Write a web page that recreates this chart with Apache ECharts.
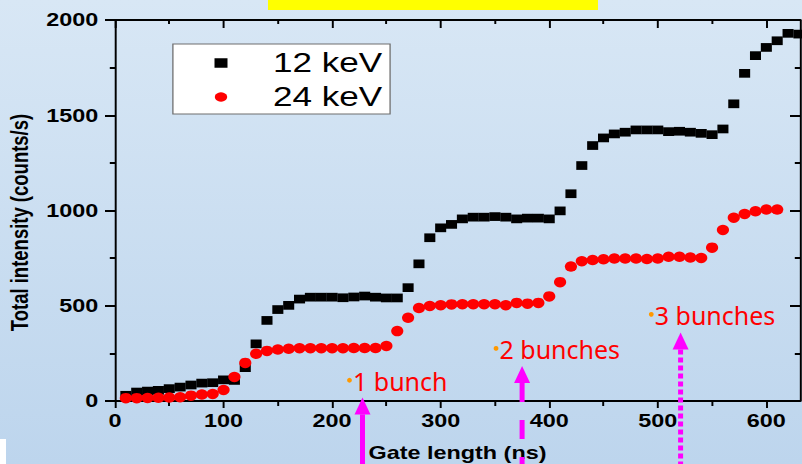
<!DOCTYPE html>
<html>
<head>
<meta charset="utf-8">
<script src="https://cdn.jsdelivr.net/npm/echarts@6/dist/echarts.min.js"></script>
<style>
  html, body { margin: 0; padding: 0; overflow: hidden; background: #fff; }
  #frame { position: relative; width: 802px; height: 464px; overflow: hidden; }
  #chart { position: absolute; left: 0; top: 0; height: 464px; transform-origin: 0 0; }
</style>
</head>
<body>
<div id="frame"><div id="chart"></div></div>
<script>
// Gate length (ns) of each measurement
const gateLength = [10, 20, 30, 40, 50, 60, 70, 80, 90, 100,
  110, 120, 130, 140, 150, 160, 170, 180, 190, 200,
  210, 220, 230, 240, 250, 260, 270, 280, 290, 300,
  310, 320, 330, 340, 350, 360, 370, 380, 390, 400,
  410, 420, 430, 440, 450, 460, 470, 480, 490, 500,
  510, 520, 530, 540, 550, 560, 570, 580, 590, 600,
  610, 620, 630];

// Total intensity (counts/s), 12 keV beam
const intensity12keV = [30, 47, 52, 56, 65, 73, 84, 94, 96, 111,
  108, 175, 300, 423, 480, 502, 535, 545, 545, 545,
  542, 546, 551, 545, 541, 541, 595, 720, 857, 909,
  927, 956, 965, 965, 968, 965, 956, 960, 960, 956,
  998, 1088, 1236, 1341, 1381, 1402, 1411, 1423, 1423, 1423,
  1414, 1416, 1411, 1405, 1398, 1428, 1560, 1720, 1813, 1856,
  1891, 1930, 1926];

// Total intensity (counts/s), 24 keV beam
const intensity24keV = [15, 15, 16, 17, 18, 20, 28, 34, 37, 58,
  126, 200, 248, 263, 270, 274, 277, 277, 277, 277,
  277, 278, 278, 278, 289, 367, 437, 488, 499, 503,
  507, 508, 508, 508, 508, 503, 515, 511, 515, 549,
  624, 706, 734, 740, 744, 748, 748, 748, 745, 748,
  757, 757, 753, 751, 805, 898, 962, 982, 996, 1005,
  1005];

const seriesNames = ['12 keV', '24 keV'];

// Axis ticks
const xMajorTicks = [0, 100, 200, 300, 400, 500, 600];
const xMinorTicks = [50, 150, 250, 350, 450, 550];
const yMin = 0, yMax = 2000, yStep = 500;
const xMin = 0, xMax = 631;

// Bunch annotations (data units)
const bunchLabels = ['1 bunch', '2 bunches', '3 bunches'];
const bunchLabelX = [216, 351, 494];
const bunchLabelY = [109, 276, 455];
const arrowX = [228, 375, 521];
const arrowTipY = [19, 184, 360];
const arrowDash = [null, [19, 18], [5, 3]];

// The figure is drawn horizontally stretched
const STRETCH = 1.3;
const W = 802 / STRETCH, H = 464;
const el = document.getElementById('chart');
el.style.width = W + 'px';
el.style.transform = 'scaleX(' + STRETCH + ')';

const chart = echarts.init(el, null, { renderer: 'svg', width: W, height: H });

const FONT = '"Liberation Sans", Arial, Helvetica, sans-serif';
const axisText = { fontFamily: FONT, fontSize: 18, fontWeight: 'bold', color: '#000' };
const plainNumber = v => String(v);

function xAxisPart(position, ticks, len, inside, withLine, withLabel) {
  return {
    type: 'value', position: position, min: xMin, max: xMax,
    axisLine: { show: withLine, onZero: false, lineStyle: { color: '#000', width: 2 } },
    axisTick: { show: true, inside: inside, length: len, customValues: ticks,
                lineStyle: { color: '#000', width: 1.5 } },
    axisLabel: withLabel ? Object.assign({ show: true, margin: 11, customValues: ticks, formatter: plainNumber }, axisText)
                         : { show: false },
    splitLine: { show: false },
    minorTick: { show: false },
    minorSplitLine: { show: false }
  };
}

const xAxes = [
  xAxisPart('bottom', xMajorTicks, 7, false, true, true),
  xAxisPart('bottom', xMinorTicks, 5, false, false, false),
  xAxisPart('top', xMajorTicks, 8, true, true, false),
  xAxisPart('top', xMinorTicks, 4, true, false, false)
];
xAxes[0].name = 'Gate length (ns)';
xAxes[0].nameLocation = 'middle';
xAxes[0].nameGap = 43;
xAxes[0].nameTextStyle = Object.assign({}, axisText);

function yAxisPart(position, inside, withLabel) {
  return {
    type: 'value', position: position, min: yMin, max: yMax, interval: yStep,
    axisLine: { show: true, onZero: false, lineStyle: { color: '#000', width: 1.5 } },
    axisTick: { show: true, inside: inside, length: 7.7, lineStyle: { color: '#000', width: 2 } },
    minorTick: { show: true, splitNumber: 2, length: 4, lineStyle: { color: '#000', width: 2 } },
    axisLabel: withLabel ? Object.assign({ show: true, margin: 12.8, formatter: plainNumber }, axisText) : { show: false },
    splitLine: { show: false },
    minorSplitLine: { show: false }
  };
}

const yAxes = [yAxisPart('left', false, true), yAxisPart('right', true, false)];
yAxes[0].name = 'Total intensity (counts/s)';
yAxes[0].nameLocation = 'middle';
yAxes[0].nameGap = 62;
yAxes[0].nameTextStyle = Object.assign({ padding: [0, 24, 0, 0] }, axisText, { fontSize: 18.5 });

const option = {
  animation: false,
  backgroundColor: new echarts.graphic.LinearGradient(0, 0, 0, 1, [
    { offset: 0, color: '#d8e7f5' },
    { offset: 1, color: '#bdd5ed' }
  ]),
  grid: {
    left: 115 / STRETCH, right: W - 800 / STRETCH, top: 20, bottom: 63,
    containLabel: false, outerBoundsMode: 'none'
  },
  legend: {
    data: seriesNames,
    orient: 'vertical',
    left: 133, top: 44,
    padding: [4, 6, 2, 32],
    itemGap: 4,
    itemWidth: 10, itemHeight: 9.5,
    backgroundColor: '#ffffff',
    borderColor: '#6f6f6f', borderWidth: 1,
    textStyle: { fontFamily: FONT, fontSize: 27, color: '#000', lineHeight: 30, padding: [0, 0, 0, 30] }
  },
  xAxis: xAxes,
  yAxis: yAxes,
  series: [
    {
      name: seriesNames[0], type: 'scatter', xAxisIndex: 0, yAxisIndex: 0,
      symbol: 'rect', symbolSize: [8.5, 8.7],
      itemStyle: { color: '#000000', opacity: 1 },
      emphasis: { disabled: true },
      data: gateLength.map((g, i) => [g, intensity12keV[i]])
    },
    {
      name: seriesNames[1], type: 'scatter', xAxisIndex: 0, yAxisIndex: 0,
      symbol: 'circle', symbolSize: [9.4, 10.5],
      itemStyle: { color: '#ff0000', opacity: 1 },
      emphasis: { disabled: true },
      data: intensity24keV.map((v, i) => [gateLength[i], v])
    }
  ]
};

chart.setOption(option);

// Overlay: title bar, corner patch, bunch labels and arrows
const graphics = [
  { type: 'rect', z: 100, shape: { x: 268 / STRETCH, y: 0, width: 330 / STRETCH, height: 10 },
    style: { fill: '#ffff00' } },
  { type: 'rect', z: 100, shape: { x: 0, y: 439, width: 6 / STRETCH, height: 25 },
    style: { fill: '#ffffff' } }
];

bunchLabels.forEach((txt, i) => {
  const p = chart.convertToPixel({ gridIndex: 0 }, [bunchLabelX[i], bunchLabelY[i]]);
  graphics.push({
    type: 'circle', z: 101, x: p[0], y: p[1], scaleX: 1 / STRETCH,
    shape: { cx: 0, cy: 0, r: 2.4 }, style: { fill: '#ff9900' }
  });
  graphics.push({
    type: 'text', z: 101, x: p[0] + 3.5 / STRETCH, y: p[1] + 1, scaleX: 1 / STRETCH,
    style: {
      text: txt, fill: '#ff0000', font: '25px "Noto Sans", sans-serif',
      align: 'left', verticalAlign: 'middle',
      textAlign: 'left', textVerticalAlign: 'middle'
    }
  });

  const t = chart.convertToPixel({ gridIndex: 0 }, [arrowX[i], arrowTipY[i]]);
  const hw = 8 / STRETCH, hh = 17;
  graphics.push({
    type: 'polygon', z: 101,
    shape: { points: [[t[0], t[1]], [t[0] - hw, t[1] + hh], [t[0] + hw, t[1] + hh]] },
    style: { fill: '#ff00ff' }
  });
  const lineStyle = { stroke: '#ff00ff', lineWidth: 5 / STRETCH, lineCap: 'butt' };
  if (arrowDash[i]) lineStyle.lineDash = arrowDash[i];
  graphics.push({
    type: 'line', z: 101,
    shape: { x1: t[0], y1: t[1] + hh, x2: t[0], y2: H + 2 },
    style: lineStyle
  });
});

chart.setOption({ graphic: graphics });
</script>
</body>
</html>
